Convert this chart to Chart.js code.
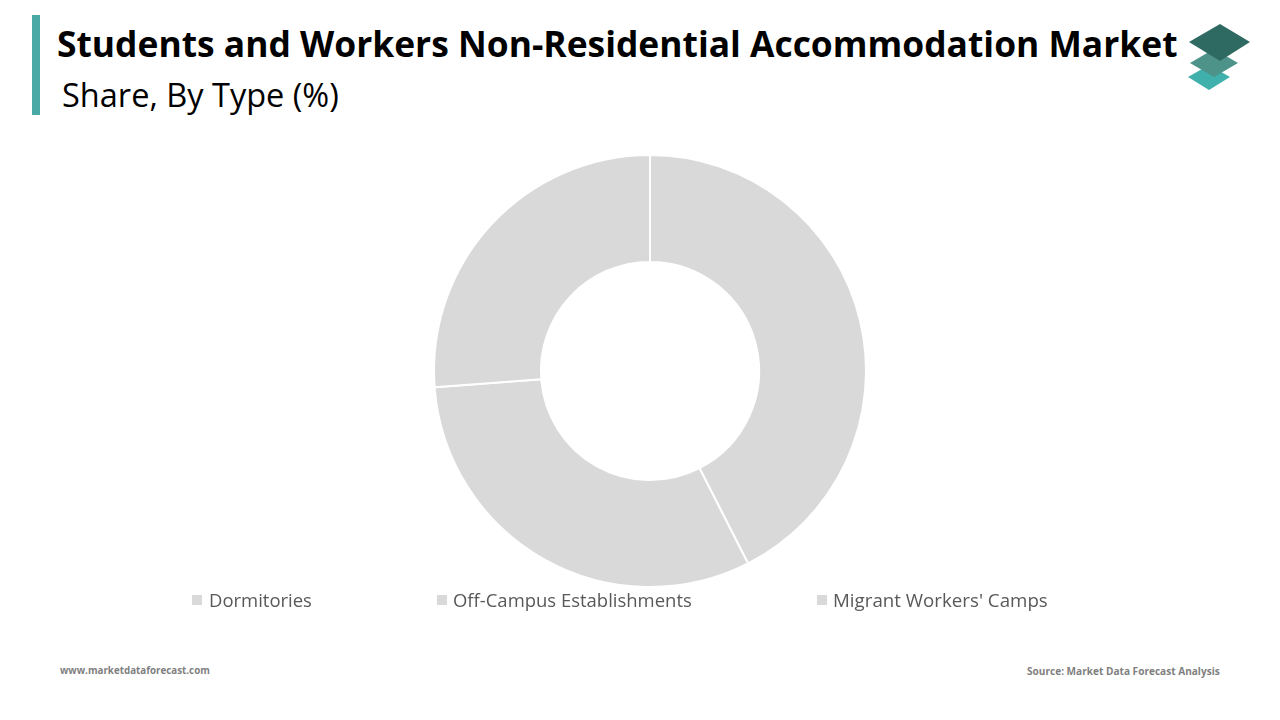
<!DOCTYPE html>
<html>
<head>
<meta charset="utf-8">
<script src="https://cdn.jsdelivr.net/npm/chart.js@4/dist/chart.umd.min.js"></script>
<style>
    body { margin: 0; width: 1280px; height: 720px; background: #fff; position: relative; overflow: hidden; font-family: "Open Sans", sans-serif; }
    .bar { position: absolute; left: 32px; top: 15px; width: 8px; height: 100px; background: #4aa9a4; }
    .title { position: absolute; left: 57px; top: 26px; font-weight: 700; color: #000; white-space: nowrap; line-height: 1; }
    .subtitle { position: absolute; left: 62px; top: 79px; color: #000; white-space: nowrap; line-height: 1; }
    .chart-box { position: absolute; left: 430px; top: 151px; width: 440px; height: 440px; }
    .legend-item { position: absolute; top: 589px; color: #595959; white-space: nowrap; line-height: 22px; }
    .legend-box { position: absolute; width: 10px; height: 10px; top: 595px; }
    .footer { position: absolute; top: 664px; font-weight: 700; color: #7f7f7f; white-space: nowrap; line-height: 14px; }
</style>
</head>
<body>
<div class="bar"></div>
<div class="title" id="title">Students and Workers Non-Residential Accommodation Market</div>
<div class="subtitle" id="subtitle">Share, By Type (%)</div>

<svg style="position:absolute; left:1180px; top:18px;" width="80" height="80" viewBox="0 0 80 80">
    <polygon points="8,59 29,47 50,59 29,72" fill="#3fb0ac"/>
    <polygon points="10,45 34,31 58,45 34,59" fill="#4e938a"/>
    <polygon points="9,24 40,6 70,24 40,43" fill="#2f6a62"/>
</svg>

<div class="chart-box"><canvas id="typeChart"></canvas></div>
<div id="legend"></div>

<div class="footer" id="site" style="left:60px;">www.marketdataforecast.com</div>
<div class="footer" id="source" style="left:1027px;">Source: Market Data Forecast Analysis</div>

<script>
const categories = ["Dormitories", "Off-Campus Establishments", "Migrant Workers' Camps"];
const shares = [42.5, 31.3, 26.2];
const sliceColors = ["#d9d9d9", "#d9d9d9", "#d9d9d9"];

// legend positions (box left, text left, text width)
const legendBoxX = [192, 437, 817];
const legendTextX = [209, 453, 833];
const legendTextW = [103, 239, 215];

// shrink/grow font so text fills the same width as the reference
function fitWidth(el, target, startSize) {
    let size = startSize;
    el.style.fontSize = size + "px";
    for (let i = 0; i < 30; i++) {
        const w = el.getBoundingClientRect().width;
        if (Math.abs(w - target) < 1) break;
        size = size * target / w;
        el.style.fontSize = size + "px";
    }
}

fitWidth(document.getElementById("title"), 1121, 34);
fitWidth(document.getElementById("subtitle"), 277, 28);
fitWidth(document.getElementById("site"), 150, 11);
fitWidth(document.getElementById("source"), 193, 11);

const legend = document.getElementById("legend");
categories.forEach((c, i) => {
    const box = document.createElement("div");
    box.className = "legend-box";
    box.style.left = legendBoxX[i] + "px";
    box.style.background = sliceColors[i];
    legend.appendChild(box);

    const txt = document.createElement("div");
    txt.className = "legend-item";
    txt.style.left = legendTextX[i] + "px";
    txt.textContent = c;
    legend.appendChild(txt);
    fitWidth(txt, legendTextW[i], 17);
});

new Chart(document.getElementById("typeChart"), {
    type: "doughnut",
    data: {
        labels: categories,
        datasets: [{
            data: shares,
            backgroundColor: sliceColors,
            borderColor: "#ffffff",
            borderWidth: 2
        }]
    },
    options: {
        responsive: true,
        maintainAspectRatio: false,
        animation: false,
        cutout: "50.5%",
        layout: { padding: 3 },
        plugins: {
            legend: { display: false },
            tooltip: { enabled: false }
        }
    }
});
</script>
</body>
</html>
